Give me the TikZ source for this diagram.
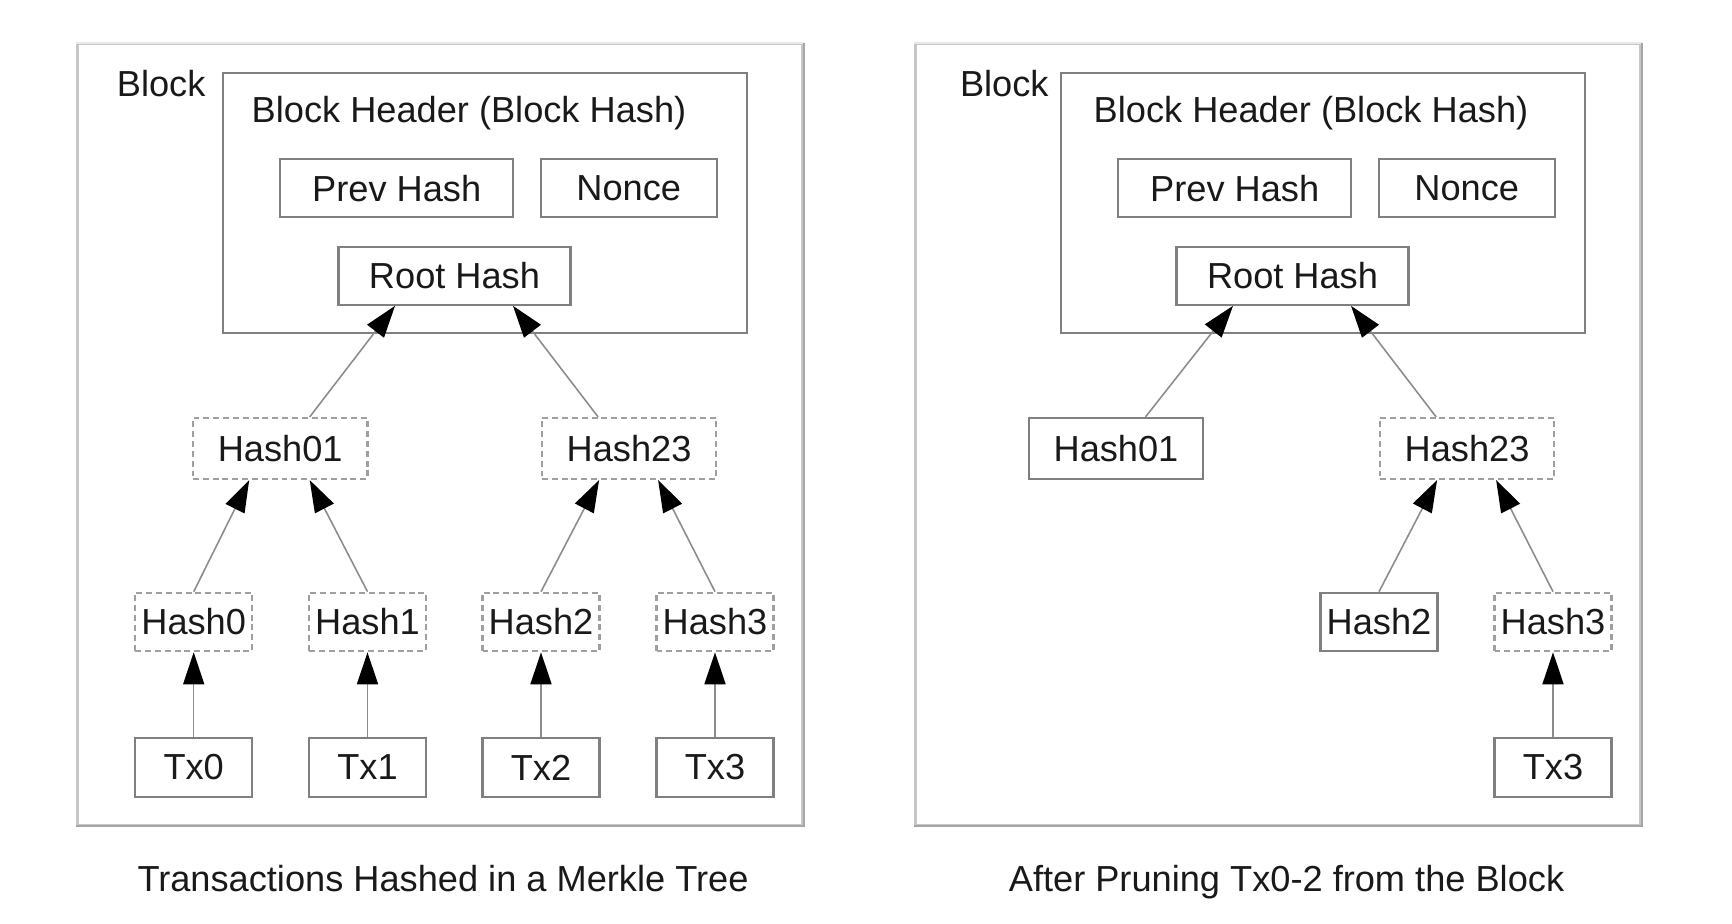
\documentclass[tikz,border=0pt]{standalone}
\usepackage{fontspec}
\setmainfont{Liberation Sans}
\usetikzlibrary{arrows.meta}

\begin{document}
\begin{tikzpicture}[
	every node/.style={font=\fontsize{10.3}{12}\selectfont, text=black!90},
	blockbox/.style={draw=gray!45, line width=0.6pt, minimum width=7.25cm, minimum height=7.81cm},
	solidbox/.style={draw=gray, line width=0.6pt, inner sep=0pt},
	dashbox/.style={draw=gray!75, line width=0.6pt, dash pattern=on 1.7pt off 1.1pt, inner sep=0pt},
	leaf/.style={minimum width=1.17cm, minimum height=0.585cm},
	mid/.style={minimum width=1.745cm, minimum height=0.61cm},
	hashto/.style={draw=gray!90, line width=0.45pt, -{Triangle[length=0.32cm,width=0.21cm,color=black]}}
	]

	\useasboundingbox (0,0) rectangle (17.32,9.24);

	% left: transactions hashed in a merkle tree
	\node [blockbox] (blockL) at (4.40,4.895) {};
	\draw [gray!18, line width=0.6pt] (blockL.north west) -- (blockL.north east);
	\draw [gray!70, line width=0.6pt] (blockL.north east) -- (blockL.south east) -- (blockL.south west);
	\node [anchor=base west] (labelL) at (1.045,8.27) {Block};
	\node [solidbox, minimum width=5.24cm, minimum height=2.60cm] (headL) at (4.846,7.208) {};
	\node [anchor=base] (titleL) at (4.69,8.01) {Block Header (Block Hash)};
	\node [solidbox, minimum width=2.33cm, minimum height=0.58cm] (prevL) at (3.967,7.357) {Prev Hash};
	\node [solidbox, minimum width=1.76cm, minimum height=0.58cm] (nonceL) at (6.287,7.357) {Nonce};
	\node [solidbox, minimum width=2.32cm, minimum height=0.58cm] (rootL) at (4.545,6.482) {Root Hash};

	\node [dashbox, mid] (h01L) at (2.802,4.755) {Hash01};
	\node [dashbox, mid] (h23L) at (6.291,4.755) {Hash23};

	\foreach \i/\x in {0/1.937,1/3.675,2/5.41,3/7.15} {
		\node [dashbox, leaf] (hL\i) at (\x,3.02) {Hash\i};
		\node [solidbox, leaf] (txL\i) at (\x,1.565) {Tx\i};
		\draw [hashto] (txL\i) -- (hL\i);
	}

	\draw [hashto] ([xshift=0.295cm]h01L.north) -- ([xshift=-0.595cm]rootL.south);
	\draw [hashto] ([xshift=-0.31cm]h23L.north) -- ([xshift=0.585cm]rootL.south);
	\draw [hashto] (hL0.north) -- ([xshift=-0.31cm]h01L.south);
	\draw [hashto] (hL1.north) -- ([xshift=0.295cm]h01L.south);
	\draw [hashto] (hL2.north) -- ([xshift=-0.30cm]h23L.south);
	\draw [hashto] (hL3.north) -- ([xshift=0.29cm]h23L.south);

	\node [anchor=base] (capL) at (4.43,0.32) {Transactions Hashed in a Merkle Tree};

	% right: after pruning
	\begin{scope} [xshift=8.38cm]
	\node [blockbox] (blockR) at (4.40,4.895) {};
	\draw [gray!18, line width=0.6pt] (blockR.north west) -- (blockR.north east);
	\draw [gray!70, line width=0.6pt] (blockR.north east) -- (blockR.south east) -- (blockR.south west);
	\node [anchor=base west] (labelR) at (1.096,8.27) {Block};
	\node [solidbox, minimum width=5.24cm, minimum height=2.60cm] (headR) at (4.846,7.208) {};
	\node [anchor=base] (titleR) at (4.73,8.01) {Block Header (Block Hash)};
	\node [solidbox, minimum width=2.33cm, minimum height=0.58cm] (prevR) at (3.967,7.357) {Prev Hash};
	\node [solidbox, minimum width=1.76cm, minimum height=0.58cm] (nonceR) at (6.287,7.357) {Nonce};
	\node [solidbox, minimum width=2.32cm, minimum height=0.58cm] (rootR) at (4.545,6.482) {Root Hash};

	\node [solidbox, mid] (h01R) at (2.78,4.755) {Hash01};
	\node [dashbox, mid] (h23R) at (6.291,4.755) {Hash23};
	\node [solidbox, leaf] (hR2) at (5.41,3.02) {Hash2};
	\node [dashbox, leaf] (hR3) at (7.15,3.02) {Hash3};
	\node [solidbox, leaf] (txR3) at (7.15,1.565) {Tx3};

	\draw [hashto] ([xshift=0.295cm]h01R.north) -- ([xshift=-0.595cm]rootR.south);
	\draw [hashto] ([xshift=-0.31cm]h23R.north) -- ([xshift=0.585cm]rootR.south);
	\draw [hashto] (hR2.north) -- ([xshift=-0.30cm]h23R.south);
	\draw [hashto] (hR3.north) -- ([xshift=0.29cm]h23R.south);
	\draw [hashto] (txR3) -- (hR3);

	\node [anchor=base] (capR) at (4.485,0.32) {After Pruning Tx0-2 from the Block};
	\end{scope}

\end{tikzpicture}
\end{document}
